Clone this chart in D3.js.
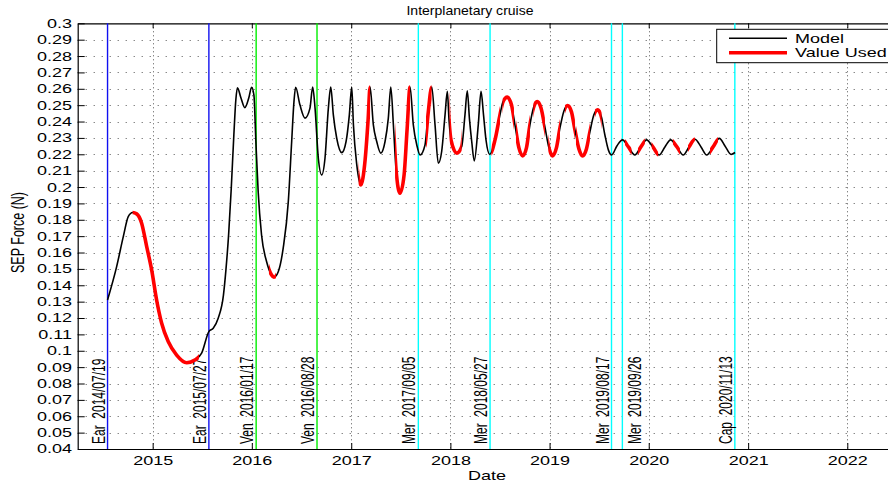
<!DOCTYPE html>
<html><head><meta charset="utf-8">
<script src="https://cdn.jsdelivr.net/npm/d3@7"></script>
<style>
body{margin:0;background:#fff;}
svg text{font-family:"Liberation Sans",Arial,Helvetica,sans-serif;fill:#000;}
</style></head><body><svg id="chart" width="888" height="483"></svg>
<script>
// SEP thrust model over the cruise, dates as decimal years
const modelYears = [
 2014.545,2014.637,2014.704,2014.754,2014.798,2014.839,2014.889,2014.940,2014.990,2015.040,
 2015.091,2015.157,2015.242,2015.343,2015.426,2015.494,2015.567,2015.611,2015.661,2015.714,
 2015.739,2015.766,2015.792,2015.819,2015.839,2015.855,2015.890,2015.930,2015.970,2015.998,
 2016.021,2016.041,2016.064,2016.098,2016.149,2016.199,2016.222,2016.266,2016.316,2016.367,
 2016.401,2016.424,2016.441,2016.484,2016.535,2016.585,2016.612,2016.636,2016.669,2016.703,
 2016.736,2016.770,2016.794,2016.820,2016.854,2016.905,2016.948,2016.981,2017.005,2017.022,
 2017.056,2017.096,2017.140,2017.170,2017.190,2017.223,2017.257,2017.298,2017.341,2017.374,
 2017.399,2017.425,2017.452,2017.492,2017.533,2017.563,2017.593,2017.626,2017.661,2017.694,
 2017.744,2017.774,2017.812,2017.845,2017.878,2017.912,2017.946,2017.969,2017.986,2018.006,
 2018.064,2018.114,2018.147,2018.170,2018.193,2018.215,2018.241,2018.281,2018.309,2018.334,
 2018.359,2018.397,2018.450,2018.500,2018.530,2018.574,2018.616,2018.651,2018.691,2018.729,
 2018.767,2018.802,2018.838,2018.876,2018.913,2018.953,2018.994,2019.031,2019.069,2019.105,
 2019.145,2019.182,2019.221,2019.256,2019.296,2019.333,2019.372,2019.407,2019.447,2019.485,
 2019.523,2019.558,2019.593,2019.626,2019.679,2019.736,2019.795,2019.860,2019.921,2019.978,
 2020.042,2020.105,2020.163,2020.220,2020.284,2020.347,2020.405,2020.465,2020.526,2020.583,
 2020.647,2020.710,2020.767,2020.828,2020.868
];
const modelForce = [
 0.1310,0.1514,0.1697,0.1819,0.1844,0.1836,0.1779,0.1636,0.1494,0.1310,
 0.1168,0.1056,0.0974,0.0927,0.0944,0.0985,0.1117,0.1137,0.1199,0.1340,
 0.1494,0.1708,0.1983,0.2319,0.2533,0.2606,0.2545,0.2485,0.2545,0.2609,
 0.2563,0.2278,0.1972,0.1707,0.1544,0.1463,0.1449,0.1483,0.1628,0.1911,
 0.2278,0.2522,0.2609,0.2502,0.2421,0.2482,0.2611,0.2482,0.2176,0.2074,
 0.2176,0.2482,0.2611,0.2441,0.2298,0.2210,0.2278,0.2441,0.2611,0.2380,
 0.2135,0.2013,0.2166,0.2410,0.2611,0.2380,0.2278,0.2207,0.2278,0.2421,
 0.2611,0.2380,0.2105,0.1962,0.2074,0.2349,0.2611,0.2380,0.2257,0.2196,
 0.2257,0.2441,0.2611,0.2380,0.2145,0.2217,0.2441,0.2584,0.2410,0.2288,
 0.2207,0.2247,0.2441,0.2587,0.2410,0.2278,0.2160,0.2380,0.2584,0.2441,
 0.2288,0.2199,0.2288,0.2441,0.2520,0.2549,0.2502,0.2380,0.2239,0.2190,
 0.2239,0.2380,0.2484,0.2522,0.2484,0.2367,0.2239,0.2190,0.2239,0.2361,
 0.2465,0.2497,0.2459,0.2349,0.2233,0.2190,0.2233,0.2337,0.2441,0.2471,
 0.2428,0.2318,0.2227,0.2196,0.2251,0.2288,0.2245,0.2196,0.2245,0.2288,
 0.2245,0.2196,0.2245,0.2288,0.2245,0.2196,0.2245,0.2292,0.2245,0.2196,
 0.2245,0.2297,0.2251,0.2199,0.2211
];
// spans where the thrust value is used (decimal years)
const usedStart = [2014.798,2016.172,2017.074,2017.442,2017.754,2017.991,2018.414,2018.525,2018.661,2018.836,
                   2018.987,2019.155,2019.266,2019.457,2019.760,2019.891,2020.029,2020.243,2020.395,2020.616];
const usedEnd   = [2015.467,2016.243,2017.190,2017.593,2017.810,2018.114,2018.500,2018.641,2018.802,2018.953,
                   2019.105,2019.256,2019.407,2019.525,2019.827,2019.961,2020.095,2020.314,2020.465,2020.697];
// planetary events
const eventBodies = ["Ear","Ear","Ven","Ven","Mer","Mer","Mer","Mer","Cap"];
const eventDates  = ["2014/07/19","2015/07/27","2016/01/17","2016/08/28","2017/09/05","2018/05/27","2019/08/17","2019/09/26","2020/11/13"];
const yTickValues = [0.04,0.05,0.06,0.07,0.08,0.09,0.1,0.11,0.12,0.13,0.14,0.15,0.16,0.17,0.18,0.19,0.2,
                     0.21,0.22,0.23,0.24,0.25,0.26,0.27,0.28,0.29,0.3];
const xTickYears = [2015,2016,2017,2018,2019,2020,2021,2022];
const legendLabels = ["Model","Value Used"];
const titleText = "Interplanetary cruise";
const xLabelText = "Date";
const yLabelText = "SEP Force (N)";

const bodyColor = {Ear:"#1010f0", Ven:"#00ee00", Mer:"#00ffff", Cap:"#00ffff"};
const SX = 1.5; // horizontal text stretch

function decYear(y){
  const Y = Math.floor(y);
  const a = new Date(Y,0,1), b = new Date(Y+1,0,1);
  return new Date(+a + (y - Y)*(b - a));
}
const parseDate = d3.timeParse("%Y/%m/%d");

const L = 77.7, R = 896, T = 23.3, B = 449;
const svg = d3.select("#chart");
const x = d3.scaleTime().domain([decYear(2014.2442), decYear(2022.491)]).range([L, R]);
const y = d3.scaleLinear().domain([0.04, 0.3]).range([B, T]);

// grid
const grid = svg.append("g").attr("stroke","#555").attr("stroke-width",1);
grid.selectAll("line.h").data(yTickValues.slice(1,-1)).enter().append("line")
  .attr("x1",L).attr("x2",R).attr("y1",d=>Math.round(y(d))+0.5).attr("y2",d=>Math.round(y(d))+0.5)
  .attr("stroke-dasharray","1,7");
grid.selectAll("line.v").data(xTickYears).enter().append("line")
  .attr("x1",d=>Math.round(x(new Date(d,0,1)))+0.5).attr("x2",d=>Math.round(x(new Date(d,0,1)))+0.5)
  .attr("y1",T).attr("y2",B).attr("stroke-dasharray","1,3");

// axes
const yearDates = xTickYears.map(d=>new Date(d,0,1));
const gx = svg.append("g").attr("transform",`translate(0,${B})`)
  .call(d3.axisBottom(x).tickValues(yearDates).tickFormat(d3.timeFormat("%Y")).tickSize(-6).tickSizeOuter(0));
gx.selectAll("text").attr("y",null).attr("dy",null).attr("font-size",12)
  .attr("transform",`translate(0,15.5) scale(${SX},1)`);
svg.append("g").attr("transform",`translate(0,${T})`)
  .call(d3.axisTop(x).tickValues(yearDates).tickFormat("").tickSize(-5).tickSizeOuter(0));
const gy = svg.append("g").attr("transform",`translate(${L},0)`)
  .call(d3.axisLeft(y).tickValues(yTickValues).tickFormat(d=>String(d)).tickSize(-7).tickSizeOuter(0));
gy.selectAll("text").attr("x",null).attr("dy","0.33em").attr("font-size",12).attr("text-anchor","end")
  .attr("transform",`translate(-5.7,0) scale(${SX},1)`);
svg.append("g").attr("transform",`translate(${R},0)`)
  .call(d3.axisRight(y).tickValues(yTickValues).tickFormat("").tickSize(-7).tickSizeOuter(0));
svg.selectAll(".domain").attr("stroke","#000").attr("stroke-width",1.2);
svg.selectAll(".tick line").attr("stroke","#000");

// event lines and labels; a label crowded by the previous event moves to the right of its line
let prevX = -Infinity;
eventDates.forEach((ds,i)=>{
  const xe = x(parseDate(ds));
  const crowded = xe - prevX < 20;
  prevX = xe;
  svg.append("line").attr("x1",xe).attr("x2",xe).attr("y1",T).attr("y2",B)
    .attr("stroke",bodyColor[eventBodies[i]]).attr("stroke-width",1.4);
  const tx = crowded ? xe + 18.5 : xe - 3;
  svg.append("text").attr("font-size",12).attr("text-anchor","start")
    .attr("transform",`translate(${tx},444) rotate(-90) scale(1,${SX})`)
    .text(eventBodies[i] + "\u00a0\u00a0" + ds);
});

// model curve and used spans
const pts = modelYears.map((yr,i)=>[decYear(yr), modelForce[i]]);
const line = d3.line().x(d=>x(d[0])).y(d=>y(d[1])).curve(d3.curveMonotoneX);
const clip = svg.append("defs").append("clipPath").attr("id","usedClip");
clip.selectAll("rect").data(usedStart).enter().append("rect")
  .attr("x",(d)=>x(decYear(d))).attr("width",(d,i)=>x(decYear(usedEnd[i]))-x(decYear(d)))
  .attr("y",0).attr("height",483);
svg.append("path").datum(pts).attr("d",line).attr("fill","none").attr("stroke","#000").attr("stroke-width",1.6);
svg.append("path").datum(pts).attr("d",line).attr("fill","none").attr("stroke","#ff0000")
  .attr("stroke-width",3.6).attr("clip-path","url(#usedClip)");

// legend
const lg = svg.append("g");
lg.append("rect").attr("x",716.7).attr("y",29.3).attr("width",182).attr("height",33.4)
  .attr("fill","#fff").attr("stroke","#000").attr("stroke-width",1);
const lgColor = ["#000","#ff0000"], lgWidth = [1.5,3.6];
legendLabels.forEach((t,i)=>{
  const yy = 38.3 + i*14.4;
  lg.append("line").attr("x1",729).attr("x2",787).attr("y1",yy).attr("y2",yy)
    .attr("stroke",lgColor[i]).attr("stroke-width",lgWidth[i]);
  lg.append("text").attr("font-size",12).attr("transform",`translate(795,${yy+4.3}) scale(${SX},1)`).text(t);
});

// titles
svg.append("text").attr("font-size",12).attr("text-anchor","middle")
  .attr("transform",`translate(470,15) scale(1.17,1)`).text(titleText);
svg.append("text").attr("font-size",12).attr("text-anchor","middle")
  .attr("transform",`translate(487,479.5) scale(${SX},1)`).text(xLabelText);
svg.append("text").attr("font-size",12.5).attr("text-anchor","middle")
  .attr("transform",`translate(24,232.5) rotate(-90) scale(1,${SX})`).text(yLabelText);
</script></body></html>
